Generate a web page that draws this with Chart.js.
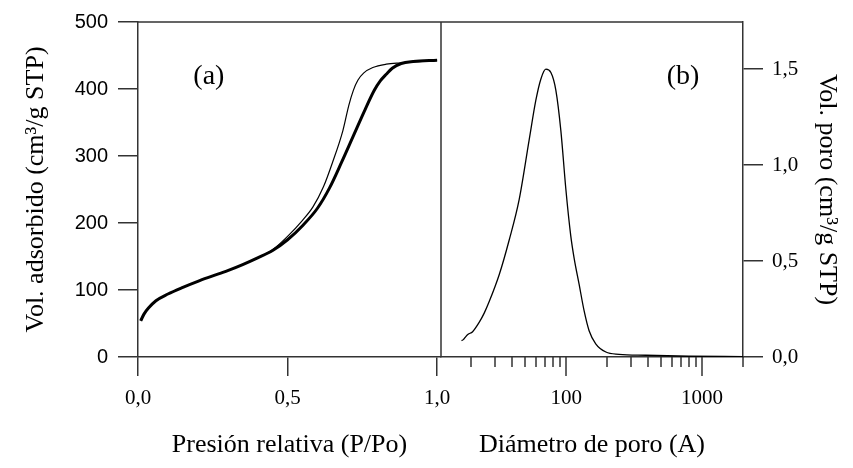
<!DOCTYPE html>
<html lang="es">
<head>
<meta charset="UTF-8">
<title>Isoterma y distribución de poro</title>
<script src="https://cdn.jsdelivr.net/npm/chart.js@4.4.1/dist/chart.umd.min.js"></script>
<style>
    body { margin: 0; background: #fff; }
    canvas { display: block; }
</style>
</head>
<body>
<canvas id="isoChart" width="853" height="468"></canvas>
<script>
// (a) isoterma - adsorcion (trazo grueso)
const adsX = [0.009, 0.02, 0.035, 0.06, 0.1, 0.15, 0.2, 0.25, 0.3, 0.35, 0.4, 0.45, 0.5, 0.55, 0.6, 0.64, 0.68, 0.72, 0.76, 0.79, 0.81, 0.83, 0.85, 0.88, 0.92, 1.0];
const adsY = [54, 64, 73, 84, 94, 104, 113, 121, 129, 138, 148, 159, 175, 196, 222, 252, 290, 330, 370, 398, 412, 422, 431, 438, 441, 443];
// (a) desorcion (trazo fino)
const desX = [0.35, 0.4, 0.45, 0.5, 0.55, 0.585, 0.62, 0.65, 0.685, 0.705, 0.72, 0.735, 0.755, 0.785, 0.83, 0.88, 0.94, 1.0];
const desY = [138, 148, 160, 180, 204, 224, 254, 290, 338, 376, 398, 413, 424, 432, 437, 439, 441, 443];
// (b) distribucion de tamaño de poro
const poroD = [17.0, 17.6, 18.2, 19.0, 20.5, 22.9, 25, 27.2, 32.2, 38.1, 45.1, 53.4, 59.8, 65.1, 70.9, 77.2, 84.0, 91.4, 99.5, 108, 114.5, 124.7, 135.6, 147.5, 165, 196, 245, 385, 800, 2000];
const poroV = [0.085, 0.092, 0.105, 0.118, 0.132, 0.18, 0.23, 0.29, 0.43, 0.61, 0.82, 1.13, 1.337, 1.448, 1.50, 1.483, 1.39, 1.18, 0.874, 0.634, 0.514, 0.377, 0.24, 0.137, 0.069, 0.026, 0.014, 0.009, 0.004, 0.002];

// ticks
const presionTicks = [0, 0.5, 1.0];
const volTicks = [0, 100, 200, 300, 400, 500];
const poroTicks = [0, 0.5, 1.0, 1.5];
const diamMajor = [100, 1000];
const diamMinor = [20, 30, 40, 50, 60, 70, 80, 90, 200, 300, 400, 500, 600, 700, 800, 900, 2000];

const ink = '#333';
const serif = '"Liberation Serif", "Times New Roman", serif';
const comma = v => Number(v).toFixed(1).replace('.', ',');
const pts = (xs, ys) => xs.map((x, i) => ({x: x, y: ys[i]}));

// top border, divider between panels, log ticks and panel letters
const framePlugin = {
    id: 'frame',
    afterDraw(chart) {
        const {ctx, chartArea: a, scales} = chart;
        const xB = scales.xB;
        ctx.save();
        ctx.strokeStyle = ink;
        ctx.lineWidth = 1.5;
        ctx.beginPath();
        ctx.moveTo(a.left, a.top);
        ctx.lineTo(a.right, a.top);
        ctx.moveTo(scales.xA.right, a.top);
        ctx.lineTo(scales.xA.right, a.bottom);
        diamMajor.concat(diamMinor).forEach(v => {
            const px = Math.round(xB.getPixelForValue(v));
            const len = diamMajor.includes(v) ? 19 : 10;
            ctx.moveTo(px, a.bottom);
            ctx.lineTo(px, a.bottom + len);
        });
        ctx.stroke();
        ctx.fillStyle = '#000';
        ctx.font = '28px ' + serif;
        ctx.textAlign = 'center';
        ctx.textBaseline = 'middle';
        ctx.fillText('(a)', scales.xA.getPixelForValue(0.237), scales.yA.getPixelForValue(418));
        ctx.fillText('(b)', xB.getPixelForValue(724), scales.yB.getPixelForValue(1.46));
        ctx.restore();
    }
};

new Chart(document.getElementById('isoChart'), {
    type: 'line',
    data: {
        datasets: [
            {
                label: 'Adsorción',
                data: pts(adsX, adsY),
                xAxisID: 'xA', yAxisID: 'yA',
                borderColor: '#000', borderWidth: 3,
                pointRadius: 0, cubicInterpolationMode: 'monotone'
            },
            {
                label: 'Desorción',
                data: pts(desX, desY),
                xAxisID: 'xA', yAxisID: 'yA',
                borderColor: '#000', borderWidth: 1.2,
                pointRadius: 0, cubicInterpolationMode: 'monotone'
            },
            {
                label: 'Vol. poro',
                data: pts(poroD, poroV),
                xAxisID: 'xB', yAxisID: 'yB',
                borderColor: '#000', borderWidth: 1.3,
                pointRadius: 0, cubicInterpolationMode: 'monotone'
            }
        ]
    },
    options: {
        responsive: false,
        animation: false,
        layout: { padding: { top: 17, left: 0, right: 0, bottom: 0 } },
        plugins: { legend: { display: false }, tooltip: { enabled: false } },
        scales: {
            xA: {
                type: 'linear', position: 'bottom', stack: 'x', stackWeight: 303,
                min: 0, max: 1.013,
                afterBuildTicks: s => { s.ticks = presionTicks.map(v => ({value: v})); },
                afterFit: s => { s.height = 111; },
                border: { display: true, color: ink, width: 1.5 },
                grid: { drawOnChartArea: false, color: ink, lineWidth: 1.5, tickLength: 19 },
                ticks: { color: '#000', font: { family: serif, size: 21 }, padding: 10, maxRotation: 0, callback: comma },
                title: { display: true, text: 'Presión relativa (P/Po)', color: '#000', font: { family: serif, size: 26 }, padding: { top: 4, bottom: 7 } }
            },
            xB: {
                type: 'logarithmic', position: 'bottom', stack: 'x', stackWeight: 302,
                min: 12, max: 2000,
                afterBuildTicks: s => { s.ticks = diamMajor.concat(diamMinor).map(v => ({value: v})); },
                afterFit: s => { s.height = 111; },
                border: { display: true, color: ink, width: 1.5 },
                grid: { drawOnChartArea: false, color: 'transparent', tickLength: 19 },
                ticks: { color: '#000', font: { family: serif, size: 21 }, padding: 10, maxRotation: 0, autoSkip: false,
                    callback: v => diamMajor.includes(v) ? String(v) : '' },
                title: { display: true, text: 'Diámetro de poro (A)', color: '#000', font: { family: serif, size: 26 }, padding: { top: 4, bottom: 7 } }
            },
            yA: {
                type: 'linear', position: 'left',
                min: 0, max: 500,
                afterBuildTicks: s => { s.ticks = volTicks.map(v => ({value: v})); },
                afterFit: s => { s.width = 138; },
                border: { display: true, color: ink, width: 1.5 },
                grid: { drawOnChartArea: false, color: ink, lineWidth: 1.5, tickLength: 20 },
                ticks: { color: '#000', font: { family: '"Liberation Sans", Arial, sans-serif', size: 20 }, padding: 10 },
                title: { display: true, text: 'Vol. adsorbido (cm³/g STP)', color: '#000', font: { family: serif, size: 26 }, padding: { top: 21, bottom: 4 } }
            },
            yB: {
                type: 'linear', position: 'right',
                min: 0, max: 1.746,
                afterBuildTicks: s => { s.ticks = poroTicks.map(v => ({value: v})); },
                afterFit: s => { s.width = 110; },
                border: { display: true, color: ink, width: 1.5 },
                grid: { drawOnChartArea: false, color: ink, lineWidth: 1.5, tickLength: 20 },
                ticks: { color: '#000', font: { family: serif, size: 21 }, padding: 9, callback: comma },
                title: { display: true, text: 'Vol. poro (cm³/g STP)', color: '#000', font: { family: serif, size: 26 }, padding: { top: 11, bottom: 4 } }
            }
        }
    },
    plugins: [framePlugin]
});
</script>
</body>
</html>
